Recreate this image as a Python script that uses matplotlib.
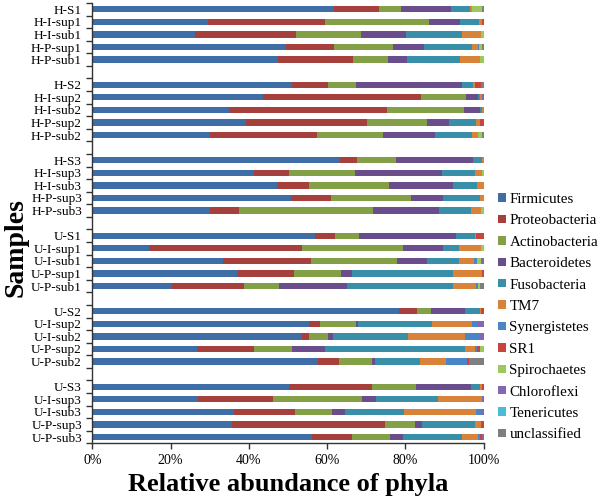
import matplotlib
matplotlib.use("Agg")
import matplotlib.pyplot as plt
import numpy as np

samples = ["H-S1", "H-I-sup1", "H-I-sub1", "H-P-sup1", "H-P-sub1",
           "H-S2", "H-I-sup2", "H-I-sub2", "H-P-sup2", "H-P-sub2",
           "H-S3", "H-I-sup3", "H-I-sub3", "H-P-sup3", "H-P-sub3",
           "U-S1", "U-I-sup1", "U-I-sub1", "U-P-sup1", "U-P-sub1",
           "U-S2", "U-I-sup2", "U-I-sub2", "U-P-sup2", "U-P-sub2",
           "U-S3", "U-I-sup3", "U-I-sub3", "U-P-sup3", "U-P-sub3"]

phyla = ["Firmicutes", "Proteobacteria", "Actinobacteria", "Bacteroidetes",
         "Fusobacteria", "TM7", "Synergistetes", "SR1", "Spirochaetes",
         "Chloroflexi", "Tenericutes", "unclassified"]

firmicutes = [61.8, 29.6, 26.3, 49.6, 47.4, 51.1, 43.7, 35.0, 39.3, 30.1,
              63.3, 41.4, 47.3, 50.7, 30.1, 56.9, 14.6, 33.5, 36.9, 20.3,
              78.4, 55.4, 53.5, 26.7, 57.6, 50.4, 26.9, 36.2, 35.7, 56.1]
proteobacteria = [11.6, 30.0, 25.7, 12.2, 19.3, 9.1, 40.2, 40.4, 30.9, 27.4,
                  4.3, 9.0, 8.1, 10.3, 7.3, 5.2, 38.9, 22.4, 14.7, 18.6,
                  4.7, 2.8, 1.9, 14.7, 5.5, 21.1, 19.2, 15.7, 39.0, 10.4]
actinobacteria = [5.6, 26.5, 16.8, 15.1, 8.9, 7.2, 11.6, 19.6, 15.3, 16.9,
                  10.0, 16.8, 20.4, 20.5, 34.4, 6.1, 25.8, 22.1, 12.0, 8.9,
                  3.4, 9.2, 4.9, 9.6, 8.5, 11.2, 22.8, 9.3, 7.8, 9.6]
bacteroidetes = [12.7, 7.9, 11.3, 8.0, 4.8, 27.1, 3.0, 4.0, 5.8, 13.2,
                 19.8, 22.3, 16.3, 8.1, 16.9, 24.8, 10.3, 7.5, 2.7, 17.3,
                 8.8, 0.6, 1.2, 8.6, 0.7, 14.0, 3.6, 3.4, 1.9, 3.4]
fusobacteria = [4.8, 4.8, 14.4, 12.1, 13.6, 2.8, 0.7, 0.6, 6.7, 9.4,
                2.1, 8.3, 6.2, 9.5, 8.0, 4.8, 4.2, 8.3, 26.0, 27.2,
                3.8, 18.8, 19.1, 35.7, 11.4, 2.4, 15.9, 15.0, 13.4, 14.9]
tm7 = [0.5, 0.7, 4.8, 1.5, 5.0, 0.5, 0.5, 0.4, 1.0, 1.5,
       0.5, 1.7, 1.7, 0.9, 2.6, 0.3, 5.5, 3.8, 7.2, 5.7,
       0.3, 10.2, 14.7, 2.5, 6.7, 0.4, 11.1, 18.5, 1.5, 4.3]
synergistetes = [0, 0, 0, 0.3, 0, 0, 0, 0, 0, 0,
                 0, 0, 0, 0, 0, 0, 0, 0.8, 0, 0.6,
                 0, 1.7, 3.8, 0.6, 5.5, 0, 0, 1.2, 0, 0.4]
sr1 = [0, 0.5, 0, 0, 0, 1.6, 0, 0, 1.0, 0,
       0, 0, 0, 0, 0, 1.9, 0, 0, 0.5, 0,
       0.6, 0, 0, 0.7, 0.5, 0.5, 0, 0, 0.7, 0.4]
spirochaetes = [2.5, 0, 0.7, 0.8, 1.0, 0, 0, 0, 0, 1.0,
                0, 0.5, 0, 0, 0.7, 0, 0.7, 0.9, 0, 0.6,
                0, 0, 0, 0.9, 0, 0, 0, 0, 0, 0]
chloroflexi = [0, 0, 0, 0, 0, 0, 0.3, 0, 0, 0,
               0, 0, 0, 0, 0, 0, 0, 0.7, 0, 0,
               0, 1.3, 0.9, 0, 0, 0, 0.5, 0.7, 0, 0.5]
tenericutes = [0] * 30
unclassified = [0.5, 0, 0, 0.4, 0, 0.6, 0, 0, 0, 0.5,
                0, 0, 0, 0, 0, 0, 0, 0, 0, 0.8,
                0, 0, 0, 0, 3.6, 0, 0, 0, 0, 0]

colors = ["#3F6DA6", "#A6403D", "#84A046", "#6A4E8B", "#3A8FA8", "#D9823A",
          "#4A86C6", "#C8443F", "#9BC95B", "#8467B4", "#4BBBD8", "#7F7F7F"]

series = [firmicutes, proteobacteria, actinobacteria, bacteroidetes,
          fusobacteria, tm7, synergistetes, sr1, spirochaetes,
          chloroflexi, tenericutes, unclassified]

data = np.array(series, dtype=float)
data = data / data.sum(axis=0) * 100.0

# slot positions: groups of 5 separated by an empty slot
positions = np.array([(i // 5) * 6 + (i % 5) for i in range(len(samples))])

plt.rcParams['font.family'] = ['Liberation Serif', 'DejaVu Serif']

fig = plt.figure(figsize=(6.0, 5.01), dpi=100)
ax = fig.add_axes([92.3 / 600, 1 - 443.3 / 501, (483.5 - 92.3) / 600, (443.3 - 3) / 501])

left = np.zeros(len(samples))
for name, vals, col in zip(phyla, data, colors):
    ax.barh(positions, vals, left=left, height=0.5, color=col, label=name,
            edgecolor='none')
    left += vals

ax.set_xlim(0, 100)
ax.set_ylim(34.5, -0.5)
ax.set_xticks([0, 20, 40, 60, 80, 100])
ax.set_xticklabels(["0%", "20%", "40%", "60%", "80%", "100%"], fontsize=10)
ax.set_yticks(np.arange(-0.5, 35, 1.0))
ax.set_yticklabels([])
ax.set_yticks(positions, minor=True)
ax.set_yticklabels(samples, minor=True, fontsize=9.5)
ax.tick_params(axis='y', which='minor', length=0, pad=7.5)
ax.tick_params(axis='y', which='major', length=4, width=1, direction='out', color='#333333')
ax.tick_params(axis='x', length=4, width=1, direction='out', color='#333333', pad=4)
for s in ['top', 'right']:
    ax.spines[s].set_visible(False)
for s in ['left', 'bottom']:
    ax.spines[s].set_color('#333333')
    ax.spines[s].set_linewidth(1)

ax.set_xlabel("Relative abundance of phyla", fontsize=19, fontweight='bold', labelpad=4)
fig.text(16 / 600, 1 - 248 / 501, "Samples", rotation=90, fontsize=20,
         fontweight='bold', ha='center', va='center')

handles, labels = ax.get_legend_handles_labels()
leg = fig.legend(handles, labels, loc='upper left', bbox_to_anchor=(0.8305, 1 - 193 / 501),
                 frameon=False, fontsize=10.8, handlelength=0.49, handleheight=0.49,
                 handletextpad=0.25, labelspacing=0.56, borderaxespad=0, borderpad=0)

fig.savefig("out.png", dpi=100)
